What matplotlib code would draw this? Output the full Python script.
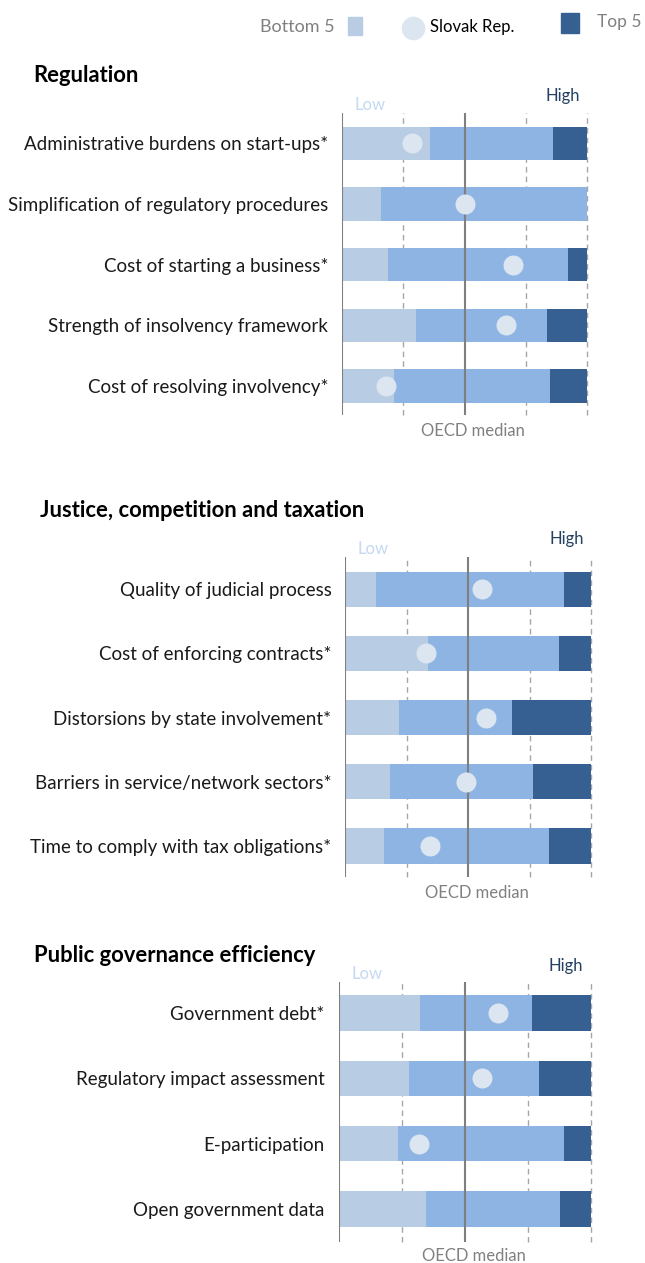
import matplotlib
matplotlib.use("Agg")
import matplotlib.pyplot as plt
from matplotlib.lines import Line2D
from matplotlib.patches import Rectangle

plt.rcParams["font.family"] = ["Lato", "DejaVu Sans"]

# Scale 0..4, OECD median at 2
regulation_labels = [
    "Administrative burdens on start-ups*",
    "Simplification of regulatory procedures",
    "Cost of starting a business*",
    "Strength of insolvency framework",
    "Cost of resolving involvency*",
]
regulation_bottom = [1.44, 0.63, 0.75, 1.20, 0.85]
regulation_top = [3.44, 4.00, 3.68, 3.34, 3.39]
regulation_slovak = [1.14, 2.00, 2.79, 2.67, 0.71]

justice_labels = [
    "Quality of judicial process",
    "Cost of enforcing contracts*",
    "Distorsions by state involvement*",
    "Barriers in service/network sectors*",
    "Time to comply with tax obligations*",
]
justice_bottom = [0.50, 1.34, 0.87, 0.73, 0.63]
justice_top = [3.56, 3.47, 2.71, 3.06, 3.31]
justice_slovak = [2.23, 1.32, 2.28, 1.96, 1.37]

governance_labels = [
    "Government debt*",
    "Regulatory impact assessment",
    "E-participation",
    "Open government data",
]
governance_bottom = [1.29, 1.12, 0.94, 1.39]
governance_top = [3.07, 3.18, 3.57, 3.52]
governance_slovak = [2.53, 2.28, 1.27, None]

C_BOTTOM = "#B8CCE4"
C_MID = "#8DB4E2"
C_TOP = "#366092"
C_DOT = "#DCE6F1"
C_LOW = "#C5D9F1"
C_HIGH = "#244062"
C_GREY = "#808080"

W, H = 645, 1263
fig = plt.figure(figsize=(W / 100, H / 100), dpi=100)


def px_axes(left, right, top, bottom):
    return fig.add_axes([left / W, 1 - bottom / H, (right - left) / W, (bottom - top) / H])


def draw_panel(box, ylim, labels, bottom, top, slovak, title, title_xy, height=0.55):
    ax = px_axes(*box)
    ax.set_xlim(0, 4)
    ax.set_ylim(*ylim)
    for i in range(len(labels)):
        ax.barh(i, bottom[i], height=height, color=C_BOTTOM, zorder=2)
        ax.barh(i, top[i] - bottom[i], left=bottom[i], height=height, color=C_MID, zorder=2)
        ax.barh(i, 4 - top[i], left=top[i], height=height, color=C_TOP, zorder=2)
        if slovak[i] is not None:
            ax.plot(slovak[i], i, "o", ms=14.4, color=C_DOT, mec="none", zorder=4)
    for x in [1, 3, 4]:
        ax.axvline(x, color="#A6A6A6", lw=1, ls=(0, (4, 3)), zorder=1, clip_on=False)
    ax.axvline(2, color="#7F7F7F", lw=1.5, zorder=3)
    ax.axvline(0, color="#7F7F7F", lw=1.5, zorder=3)
    for s in ax.spines.values():
        s.set_visible(False)
    ax.set_xticks([])
    ax.set_yticks(range(len(labels)))
    ax.set_yticklabels(labels, fontsize=13.5, color="#1a1a1a")
    ax.tick_params(axis="y", length=0, pad=10)
    ax.text(0.05, 1.0, "Low", transform=ax.transAxes, fontsize=12, color=C_LOW,
            ha="left", va="bottom")
    ax.text(0.90, 1.03, "High", transform=ax.transAxes, fontsize=12, color=C_HIGH,
            ha="center", va="bottom")
    ax.text(0.535, -0.025, "OECD median", transform=ax.transAxes, fontsize=12,
            color=C_GREY, ha="center", va="top")
    fig.text(title_xy[0] / W, 1 - title_xy[1] / H, title, fontsize=15.8,
             fontweight="bold", ha="left", va="center")
    return ax


draw_panel((342, 587.3, 113, 415), (4.48, -0.5), regulation_labels, regulation_bottom,
           regulation_top, regulation_slovak, "Regulation", (33, 76))
draw_panel((345.3, 591.3, 556.7, 876.7), (4.48, -0.507), justice_labels, justice_bottom,
           justice_top, justice_slovak, "Justice, competition and taxation", (40, 511))
draw_panel((338.7, 590.7, 981.7, 1241.7), (3.5, -0.48), governance_labels, governance_bottom,
           governance_top, governance_slovak, "Public governance efficiency", (34, 955),
           height=0.54)

# legend
fig.text(335 / W, 1 - 27 / H, "Bottom 5", fontsize=13, color=C_GREY, ha="right", va="center")
fig.patches.append(Rectangle((348 / W, 1 - 35 / H), 14 / W, 18 / H, color=C_BOTTOM,
                             transform=fig.transFigure, figure=fig))
fig.add_artist(Line2D([413 / W], [1 - 28 / H], marker="o", ms=17, color=C_DOT, mec="none",
                      transform=fig.transFigure))
fig.text(430 / W, 1 - 27 / H, "Slovak Rep.", fontsize=12, color="black", ha="left", va="center")
fig.patches.append(Rectangle((561 / W, 1 - 33 / H), 18 / W, 20 / H, color=C_TOP,
                             transform=fig.transFigure, figure=fig))
fig.text(597 / W, 1 - 22 / H, "Top 5", fontsize=12.5, color=C_GREY, ha="left", va="center")

fig.savefig("out.png", dpi=100)
